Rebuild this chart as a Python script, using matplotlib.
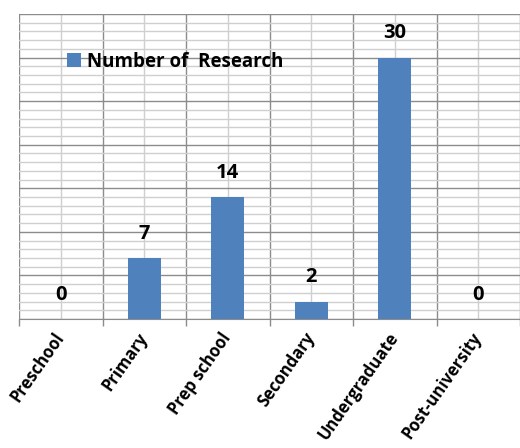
import matplotlib
matplotlib.use("Agg")
import matplotlib.pyplot as plt
import matplotlib.transforms as mtransforms
from matplotlib.ticker import MultipleLocator, FixedLocator
import numpy as np

categories = ["Preschool", "Primary", "Prep school", "Secondary", "Undergraduate", "Post-university"]
research_counts = [0, 7, 14, 2, 30, 0]
series_name = "Number of  Research"

plt.rcParams["font.family"] = ["Open Sans", "DejaVu Sans"]
plt.rcParams["font.weight"] = "bold"

bar_color = "#4F81BD"
dark_grid = "#8c8c8c"
light_grid = "#cfcfcf"

fig = plt.figure(figsize=(5.2, 4.48), dpi=100)
ax = fig.add_axes([19 / 520, 129 / 448, 501 / 520, 305 / 448])

x = np.arange(len(categories))
bars = ax.bar(x, research_counts, width=0.4, color=bar_color, label=series_name, zorder=3)

ax.set_xlim(-0.5, len(categories) - 0.5)
ax.set_ylim(0, 35)

# gridlines: y major every 5 (dark), minor every 1 (light)
ax.yaxis.set_major_locator(MultipleLocator(5))
ax.yaxis.set_minor_locator(MultipleLocator(1))
# x: labels at category centres, boundaries as minor ticks
ax.set_xticks(x)
ax.set_xticklabels(categories, rotation=55, ha="right", va="center",
                   rotation_mode="anchor", fontsize=12, fontweight="bold")
ax.xaxis.set_minor_locator(FixedLocator(np.arange(-0.5, len(categories), 1.0)))
shift = mtransforms.ScaledTranslation(4 / 100, 0, fig.dpi_scale_trans)
for lbl in ax.get_xticklabels():
    lbl.set_transform(lbl.get_transform() + shift)

ax.grid(which="major", axis="y", color=dark_grid, linewidth=1.0, zorder=0)
ax.grid(which="minor", axis="y", color=light_grid, linewidth=1.0, zorder=0)
ax.grid(which="major", axis="x", color=light_grid, linewidth=1.0, zorder=0)
ax.grid(which="minor", axis="x", color=dark_grid, linewidth=1.0, zorder=0)
ax.set_axisbelow(True)

ax.tick_params(axis="y", which="both", left=False, labelleft=False)
ax.tick_params(axis="x", which="major", length=0, pad=11)
ax.tick_params(axis="x", which="minor", length=5, color=dark_grid, width=1)

for side in ["top", "right", "left"]:
    ax.spines[side].set_visible(False)
ax.spines["bottom"].set_color(dark_grid)

for xi, v in zip(x, research_counts):
    ax.annotate(str(v), (xi, v), xytext=(0, 17.5), textcoords="offset points",
                ha="center", va="center", fontsize=14.5, fontweight="bold", color="black")

ax.legend(loc="center left", bbox_to_anchor=(0.096, 0.843), frameon=False,
          borderpad=0, borderaxespad=0, handlelength=0.75, handleheight=0.75,
          handletextpad=0.3, prop={"size": 13.5, "weight": "bold"})

fig.savefig("out.png", dpi=100)
